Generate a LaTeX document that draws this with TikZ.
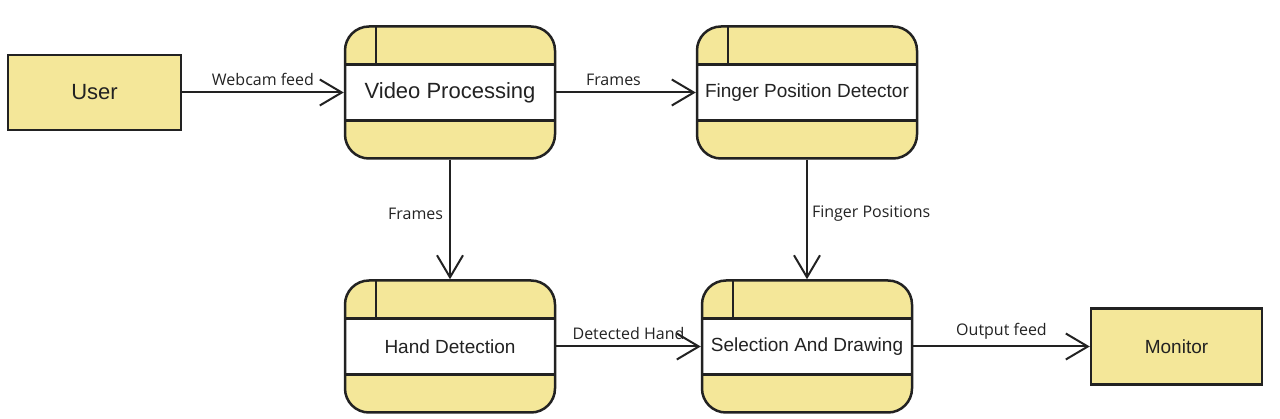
\documentclass[tikz,border=0pt]{standalone}
\usepackage{fontspec}
\setmainfont{Liberation Sans}
\newfontfamily\flowfont{Open Sans}
\usetikzlibrary{positioning,arrows.meta}
\definecolor{boxyellow}{RGB}{244,231,153}
\definecolor{inkgray}{RGB}{34,34,34}

\begin{document}
\begin{tikzpicture}[-{Straight Barb[length=22pt,width=26pt]}, line width=2pt, draw=inkgray, auto,
  entity/.style={draw=inkgray, line width=2.5pt, fill=boxyellow, text=inkgray, minimum width=173pt, minimum height=75pt},
  process/.style={draw=inkgray, line width=2.5pt, rounded corners=24pt, fill=boxyellow, text=inkgray,
    minimum width=210pt, minimum height=132pt,
    path picture={
      \fill[white, sharp corners] ([yshift=-38pt]path picture bounding box.north west) rectangle ([yshift=-94pt]path picture bounding box.north east);
      \draw[-, sharp corners, line width=2.5pt, inkgray]
        ([yshift=-38pt]path picture bounding box.north west) -- ([yshift=-38pt]path picture bounding box.north east)
        ([yshift=-94pt]path picture bounding box.north west) -- ([yshift=-94pt]path picture bounding box.north east)
        ([xshift=31pt]path picture bounding box.north west) -- ([xshift=31pt,yshift=-38pt]path picture bounding box.north west);
    }},
  big/.style={font=\fontsize{22}{26}\selectfont},
  small/.style={font=\fontsize{19}{23}\selectfont},
  flow/.style={font=\flowfont\fontsize{16}{18}\selectfont, text=inkgray, inner sep=6pt}]
\useasboundingbox (0,0) rectangle (1280pt,-419pt);
\node (user)    [entity, big] at (94.5pt,-92.5pt) {User};
\node (vp)      [process, big]   [right of = user, node distance=355.5pt] {Video Processing};
\node (fpd)     [process, small, minimum width=220pt] [right of = vp, node distance=357pt] {Finger Position Detector};
\node (hand)    [process, small] [below of = vp, node distance=254pt] {Hand Detection};
\node (sel)     [process, small] [right of = hand, node distance=357pt] {Selection And Drawing};
\node (monitor) [entity, small, minimum width=171pt, minimum height=76pt] [right of = sel, node distance=369.5pt] {Monitor};
\path (user) edge node[flow]{Webcam feed} (vp)
      (vp)   edge node[flow, pos=0.41]{Frames} (fpd)
      (vp)   edge node[flow, swap, pos=0.45]{Frames} (hand)
      (fpd)  edge node[flow, pos=0.45, inner sep=4pt]{Finger Positions} (sel)
      (hand) edge node[flow, pos=0.5]{Detected Hand} (sel)
      (sel)  edge node[flow]{Output feed} (monitor);
\end{tikzpicture}
\end{document}
